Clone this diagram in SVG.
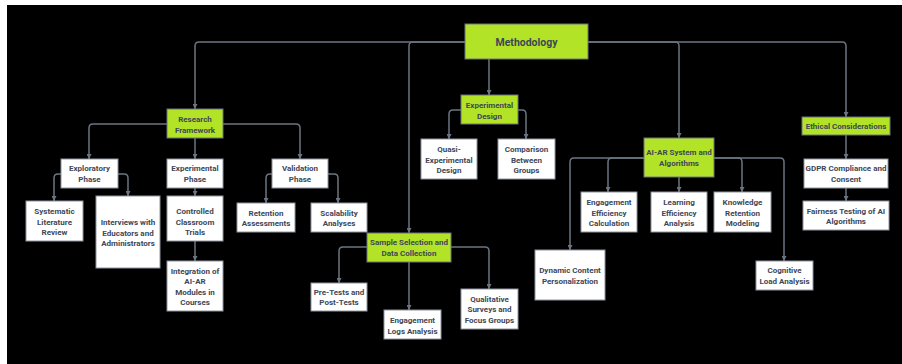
<svg xmlns="http://www.w3.org/2000/svg" width="902" height="364" viewBox="0 0 902 364">
<defs>
<marker id="ah" markerUnits="userSpaceOnUse" markerWidth="6" markerHeight="5" refX="5" refY="2.5" orient="auto">
<path d="M0,0 L5,2.5 L0,5 Z" fill="#6b7581"/>
</marker>
<style>
.bg{fill:#000}
.n rect{fill:#fff;stroke:#8e96a0;stroke-width:1}
.g rect{fill:#b3e326;stroke:#6b7380;stroke-width:1}
text{font-family:Roboto,"Liberation Sans",sans-serif;font-weight:bold;font-size:8px;fill:#3d4757;text-anchor:middle}
.big{font-size:10.5px}
#connectors path{fill:none;stroke:#6b7581;stroke-width:1.5;marker-end:url(#ah)}
</style>
</defs>
<rect x="0" y="0" width="902" height="364" fill="#fff"/>
<rect class="bg" x="7" y="5" width="895" height="359"/>
<g id="connectors">
<path d="M465,42 H199 Q195,42 195,46 V109"/>
<path d="M465,42 H413 Q409,42 409,46 V233"/>
<path d="M588,42 H842 Q846,42 846,46 V117"/>
<path d="M588,42 H675 Q679,42 679,46 V138"/>
<path d="M489,59 V95"/>
<path d="M461,110 H453 Q449,110 449,114 V139"/>
<path d="M518,110 H522 Q526,110 526,114 V139"/>
<path d="M167,124 H93 Q89,124 89,128 V159"/>
<path d="M195,138 V159"/>
<path d="M223,124 H296 Q300,124 300,128 V159"/>
<path d="M61,174 H58 Q54,174 54,178 V201"/>
<path d="M118,174 H124 Q128,174 128,178 V196"/>
<path d="M195,188 V196"/>
<path d="M195,241 V261"/>
<path d="M272,174 H270 Q266,174 266,178 V203"/>
<path d="M328,174 H334 Q338,174 338,178 V203"/>
<path d="M367,247 H343 Q339,247 339,251 V283"/>
<path d="M409,262 V310"/>
<path d="M451,247 H485 Q489,247 489,251 V289"/>
<path d="M644,158 H574 Q570,158 570,162 V250"/>
<path d="M644,158 H612 Q608,158 608,162 V192"/>
<path d="M679,177 V192"/>
<path d="M714,158 H780 Q784,158 784,162 V261"/>
<path d="M714,158 H738 Q742,158 742,162 V192"/>
<path d="M846,135 V159"/>
<path d="M846,188 V201"/>
</g>
<g id="methodology" class="g"><rect x="465" y="24" width="123" height="35"/><text class="big" x="526.5" y="46">Methodology</text></g>
<g id="research-framework" class="g"><rect x="167" y="109" width="56" height="29"/><text x="195" y="122">Research</text><text x="195" y="132.5">Framework</text></g>
<g id="experimental-design" class="g"><rect x="461" y="95" width="57" height="29"/><text x="489.5" y="108">Experimental</text><text x="489.5" y="118.5">Design</text></g>
<g id="ai-ar-system" class="g"><rect x="644" y="138" width="70" height="39"/><text x="679" y="155.3">AI-AR System and</text><text x="679" y="166.3">Algorithms</text></g>
<g id="ethical-considerations" class="g"><rect x="802" y="117" width="88" height="18"/><text x="846" y="129">Ethical Considerations</text></g>
<g id="sample-selection" class="g"><rect x="367" y="233" width="84" height="29"/><text x="409" y="245.3">Sample Selection and</text><text x="409" y="255.8">Data Collection</text></g>
<g id="exploratory-phase" class="n"><rect x="61" y="159" width="57" height="29"/><text x="89.5" y="171.3">Exploratory</text><text x="89.5" y="182">Phase</text></g>
<g id="experimental-phase" class="n"><rect x="167" y="159" width="56" height="29"/><text x="195" y="171.3">Experimental</text><text x="195" y="182">Phase</text></g>
<g id="validation-phase" class="n"><rect x="272" y="159" width="56" height="29"/><text x="300" y="171.3">Validation</text><text x="300" y="182">Phase</text></g>
<g id="systematic-review" class="n"><rect x="26" y="201" width="57" height="40"/><text x="54.5" y="214">Systematic</text><text x="54.5" y="224.5">Literature</text><text x="54.5" y="235">Review</text></g>
<g id="interviews" class="n"><rect x="96" y="196" width="64" height="72"/><text x="128" y="225">Interviews with</text><text x="128" y="235.5">Educators and</text><text x="128" y="246">Administrators</text></g>
<g id="controlled-trials" class="n"><rect x="167" y="196" width="56" height="45"/><text x="195" y="214">Controlled</text><text x="195" y="224.5">Classroom</text><text x="195" y="235">Trials</text></g>
<g id="integration" class="n"><rect x="167" y="261" width="56" height="50"/><text x="195" y="273.7">Integration of</text><text x="195" y="284.2">AI-AR</text><text x="195" y="294.7">Modules in</text><text x="195" y="305.2">Courses</text></g>
<g id="retention-assessments" class="n"><rect x="237" y="203" width="58" height="29"/><text x="266" y="215.7">Retention</text><text x="266" y="226.3">Assessments</text></g>
<g id="scalability-analyses" class="n"><rect x="311" y="203" width="56" height="29"/><text x="339" y="215.7">Scalability</text><text x="339" y="226.3">Analyses</text></g>
<g id="quasi-experimental" class="n"><rect x="421" y="139" width="56" height="40"/><text x="449" y="152.3">Quasi-</text><text x="449" y="162.8">Experimental</text><text x="449" y="173.3">Design</text></g>
<g id="comparison-groups" class="n"><rect x="498" y="139" width="57" height="40"/><text x="526.5" y="152.3">Comparison</text><text x="526.5" y="162.8">Between</text><text x="526.5" y="173.3">Groups</text></g>
<g id="pre-post-tests" class="n"><rect x="311" y="283" width="56" height="28"/><text x="339" y="294.7">Pre-Tests and</text><text x="339" y="305.3">Post-Tests</text></g>
<g id="engagement-logs" class="n"><rect x="384" y="310" width="57" height="29"/><text x="412.5" y="323">Engagement</text><text x="412.5" y="333.6">Logs Analysis</text></g>
<g id="qualitative-surveys" class="n"><rect x="461" y="289" width="57" height="40"/><text x="489.5" y="301.7">Qualitative</text><text x="489.5" y="312.2">Surveys and</text><text x="489.5" y="322.7">Focus Groups</text></g>
<g id="engagement-efficiency" class="n"><rect x="581" y="192" width="56" height="40"/><text x="609" y="205.3">Engagement</text><text x="609" y="215.7">Efficiency</text><text x="609" y="226">Calculation</text></g>
<g id="learning-efficiency" class="n"><rect x="651" y="192" width="56" height="40"/><text x="679" y="205.3">Learning</text><text x="679" y="215.7">Efficiency</text><text x="679" y="226">Analysis</text></g>
<g id="knowledge-retention" class="n"><rect x="714" y="192" width="57" height="40"/><text x="742.5" y="205.3">Knowledge</text><text x="742.5" y="215.7">Retention</text><text x="742.5" y="226">Modeling</text></g>
<g id="dynamic-content" class="n"><rect x="535" y="250" width="70" height="50"/><text x="570" y="273.3">Dynamic Content</text><text x="570" y="284">Personalization</text></g>
<g id="cognitive-load" class="n"><rect x="756" y="261" width="57" height="29"/><text x="784.5" y="273.3">Cognitive</text><text x="784.5" y="284">Load Analysis</text></g>
<g id="gdpr" class="n"><rect x="804" y="159" width="84" height="29"/><text x="846" y="171">GDPR Compliance and</text><text x="846" y="181.6">Consent</text></g>
<g id="fairness-testing" class="n"><rect x="803" y="201" width="86" height="29"/><text x="846" y="213.7">Fairness Testing of AI</text><text x="846" y="224.2">Algorithms</text></g>
</svg>
